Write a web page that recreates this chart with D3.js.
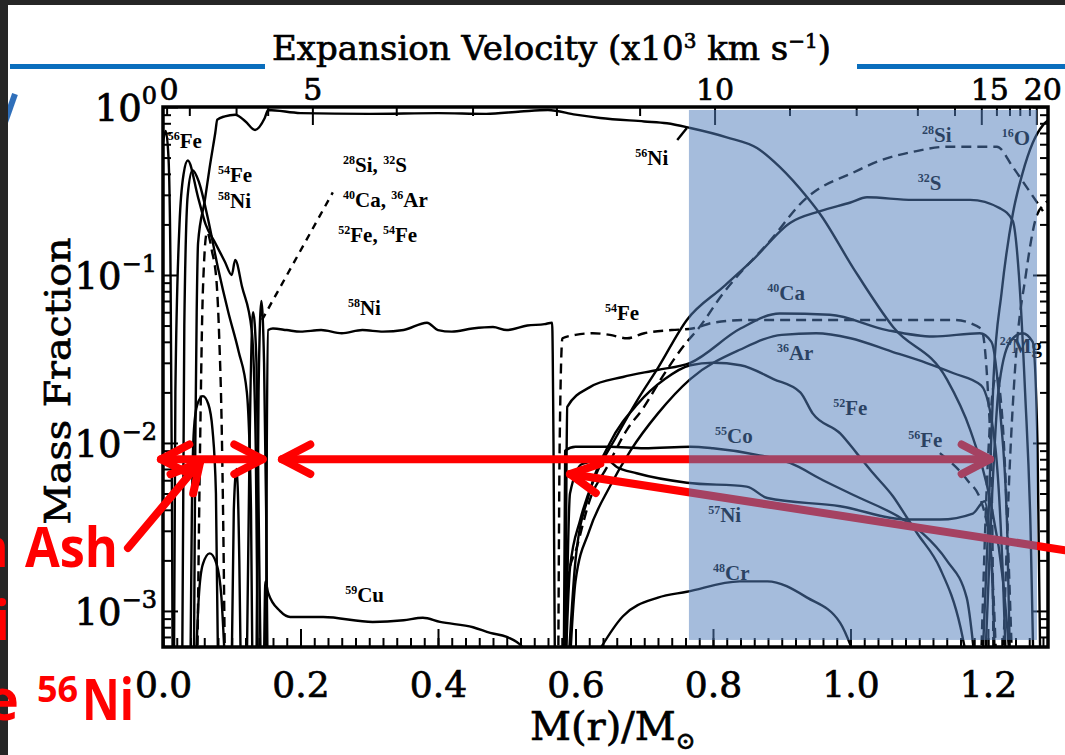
<!DOCTYPE html>
<meta charset="utf-8">
<style>
    body { margin: 0; background: #fff; }
    svg { display: block; }
    .curve { fill: none; stroke: #000; stroke-width: 2.4; stroke-linejoin: round; }
    .dash { stroke-dasharray: 10, 6; }
    .axis line { stroke: #000; stroke-width: 2; }
    .axis path { display: none; }
    .axis text { font-family: "DejaVu Serif", serif; font-size: 36px; fill: #000; stroke: #000; stroke-width: 0.7; }
    .lab { font-family: "Liberation Serif", serif; font-weight: bold; fill: #000; }
    .num { font-family: "DejaVu Serif", serif; fill: #000; stroke: #000; stroke-width: 0.7; }
    .red { font-family: "Open Sans", sans-serif; font-weight: 700; fill: #ff0000; }
    .arrow { fill: none; stroke: #ff0000; stroke-width: 8; stroke-linecap: round; stroke-linejoin: round; }
</style>
<body>
<svg></svg>
<script src="https://d3js.org/d3.v7.min.js"></script>
<script>
    // ---- data: [M(r)/Msun, mass fraction] ----
    var fe56c = [[0.0,0.62],[0.004,0.72],[0.008,0.5],[0.011,0.1],[0.013,0.005],[0.014,0.0005]];
    var fe54c = [[0.016,0.0005],[0.018,0.02],[0.024,0.2],[0.030,0.40],[0.036,0.48],[0.051,0.29],[0.062,0.2],[0.076,0.155],[0.09,0.12],[0.100,0.10],[0.105,0.123],[0.115,0.085],[0.129,0.047],[0.135,0.009],[0.138,0.0005]];
    var ni58c = [[0.028,0.0005],[0.031,0.05],[0.036,0.3],[0.043,0.42],[0.052,0.36],[0.065,0.22],[0.08,0.11],[0.095,0.06],[0.11,0.035],[0.122,0.02],[0.128,0.004],[0.130,0.0005]];
    var co55c = [[0.05,0.0005],[0.054,0.01],[0.058,0.08],[0.064,0.18],[0.071,0.14],[0.078,0.09],[0.082,0.04],[0.085,0.015],[0.087,0.005],[0.09,0.0005]];
    var bell1 = [[0.040,0.0005],[0.042,0.004],[0.045,0.012],[0.050,0.017],[0.058,0.019],[0.066,0.017],[0.072,0.012],[0.077,0.005],[0.080,0.0005]];
    var bell2 = [[0.048,0.0005],[0.052,0.0012],[0.058,0.0019],[0.068,0.0022],[0.078,0.0019],[0.085,0.0012],[0.090,0.0005]];
    var spk1 = [[0.122,0.0005],[0.126,0.01],[0.131,0.06],[0.136,0.03],[0.140,0.002],[0.142,0.0005]];
    var spk2 = [[0.136,0.0005],[0.139,0.02],[0.143,0.07],[0.147,0.03],[0.150,0.004],[0.152,0.0005]];
    var spk3 = [[0.100,0.0005],[0.103,0.004],[0.107,0.007],[0.111,0.002],[0.113,0.0005]];

    var ni56 = [[0.045,0.0005],[0.047,0.01],[0.049,0.06],[0.051,0.155],[0.061,0.28],[0.068,0.44],[0.076,0.70],[0.079,0.84],[0.090,0.88],[0.105,0.90],[0.120,0.82],[0.134,0.73],[0.148,0.86],[0.153,0.96],[0.20,0.92],[0.30,0.91],[0.40,0.92],[0.47,0.91],[0.52,0.94],[0.56,0.96],[0.60,0.90],[0.636,0.86],[0.70,0.82],[0.733,0.80],[0.767,0.75],[0.82,0.66],[0.864,0.57],[0.897,0.44],[0.937,0.29],[0.956,0.23],[1.004,0.11],[1.062,0.049],[1.14,0.024],[1.174,0.012],[1.203,0.0046],[1.222,0.0015],[1.232,0.0005]];
    var ni58 = [[0.150,0.0005],[0.151,0.01],[0.153,0.047],[0.16,0.048],[0.18,0.047],[0.20,0.046],[0.23,0.047],[0.26,0.045],[0.29,0.047],[0.32,0.046],[0.35,0.047],[0.384,0.052],[0.40,0.047],[0.42,0.046],[0.45,0.048],[0.48,0.049],[0.50,0.047],[0.53,0.050],[0.555,0.051],[0.566,0.052],[0.568,0.01],[0.570,0.0005]];
    var cu59 = [[0.147,0.0005],[0.149,0.0015],[0.153,0.00128],[0.17,0.001],[0.185,0.00092],[0.233,0.00092],[0.305,0.00086],[0.35,0.00088],[0.378,0.00091],[0.403,0.00086],[0.451,0.0008],[0.476,0.00074],[0.50,0.0007],[0.524,0.0006],[0.53,0.0005]];
    var fe54 = [[0.575,0.0005],[0.577,0.01],[0.581,0.042],[0.60,0.044],[0.625,0.045],[0.65,0.044],[0.675,0.042],[0.70,0.045],[0.74,0.047],[0.77,0.048],[0.80,0.052],[0.85,0.054],[0.95,0.054],[1.05,0.054],[1.15,0.054],[1.19,0.048],[1.20,0.02],[1.206,0.004],[1.208,0.0005]];
    var si28 = [[0.583,0.0005],[0.588,0.0015],[0.602,0.0024],[0.621,0.0046],[0.646,0.0072],[0.675,0.012],[0.698,0.016],[0.727,0.025],[0.762,0.04],[0.777,0.047],[0.815,0.078],[0.883,0.16],[0.937,0.29],[0.956,0.33],[1.00,0.40],[1.043,0.48],[1.09,0.54],[1.14,0.58],[1.213,0.58],[1.236,0.44],[1.257,0.33],[1.28,0.24]];
    var s32 = [[0.586,0.0005],[0.592,0.0018],[0.607,0.0035],[0.63,0.0065],[0.66,0.011],[0.69,0.018],[0.72,0.028],[0.762,0.054],[0.815,0.085],[0.858,0.123],[0.912,0.204],[0.956,0.24],[1.0,0.27],[1.024,0.29],[1.091,0.28],[1.174,0.28],[1.217,0.25],[1.236,0.21],[1.245,0.1],[1.254,0.02],[1.262,0.003],[1.266,0.0005]];
    var ca40 = [[0.585,0.0005],[0.587,0.008],[0.588,0.0164],[0.621,0.0215],[0.669,0.0247],[0.719,0.0272],[0.767,0.030],[0.84,0.048],[0.897,0.059],[0.97,0.058],[1.053,0.047],[1.12,0.043],[1.188,0.045],[1.205,0.04],[1.218,0.015],[1.228,0.003],[1.232,0.0005]];
    var ar36 = [[0.592,0.0005],[0.60,0.0015],[0.62,0.003],[0.65,0.0055],[0.68,0.009],[0.72,0.015],[0.767,0.024],[0.84,0.036],[0.90,0.044],[0.95,0.045],[1.0,0.042],[1.06,0.035],[1.11,0.03],[1.15,0.026],[1.19,0.022],[1.21,0.01],[1.222,0.0015],[1.226,0.0005]];
    var co55 = [[0.583,0.0005],[0.585,0.009],[0.60,0.0095],[0.65,0.0095],[0.70,0.0093],[0.767,0.0095],[0.80,0.0093],[0.864,0.0085],[0.912,0.0076],[0.96,0.006],[1.009,0.0048],[1.072,0.0036],[1.105,0.0029],[1.14,0.0020],[1.169,0.0012],[1.181,0.0005]];
    var ni57 = [[0.586,0.0005],[0.592,0.005],[0.61,0.0075],[0.646,0.0079],[0.66,0.0072],[0.689,0.0066],[0.762,0.0058],[0.849,0.0055],[0.879,0.0047],[0.985,0.0042],[1.082,0.0035],[1.13,0.0035],[1.178,0.0038],[1.195,0.0045],[1.205,0.002],[1.21,0.0005]];
    var cr48 = [[0.625,0.0005],[0.669,0.00093],[0.72,0.0012],[0.762,0.0013],[0.839,0.0015],[0.879,0.0015],[0.937,0.0012],[0.985,0.00085],[1.009,0.0005]];
    var fe52 = [[0.590,0.0005],[0.60,0.002],[0.62,0.005],[0.65,0.010],[0.69,0.017],[0.73,0.024],[0.767,0.029],[0.80,0.030],[0.84,0.029],[0.888,0.024],[0.927,0.020],[0.945,0.015],[0.985,0.0114],[1.009,0.0087],[1.033,0.0066],[1.062,0.0048],[1.082,0.0036],[1.097,0.0029],[1.13,0.0018],[1.16,0.0008],[1.17,0.0005]];
    var fe56o = [[1.13,0.0087],[1.17,0.006],[1.19,0.0045],[1.205,0.002],[1.212,0.0005]];
    var o16 = [[1.192,0.0005],[1.2,0.003],[1.208,0.024],[1.22,0.08],[1.236,0.23],[1.25,0.4],[1.265,0.61],[1.28,0.78],[1.29,0.85]];
    var mg24 = [[1.196,0.0005],[1.205,0.004],[1.215,0.02],[1.232,0.04],[1.25,0.045],[1.265,0.04],[1.272,0.01],[1.276,0.0005]];
    var ne20 = [[1.222,0.0005],[1.23,0.005],[1.24,0.03],[1.255,0.1],[1.27,0.22],[1.28,0.26],[1.29,0.28]];
    var dsp1 = [[1.19,0.0005],[1.2,0.008],[1.212,0.025],[1.222,0.012],[1.23,0.002],[1.235,0.0005]];

    var solidCurves = [fe56c, fe54c, ni58c, bell1, bell2, spk1, spk2, spk3, ni56, ni58, cu59, s32, ca40, ar36, co55, ni57, cr48, fe52, o16, mg24];
    var dashedCurves = [co55c, fe54, si28, fe56o, ne20, dsp1];

    // axes
    var massTicks = [0.0, 0.2, 0.4, 0.6, 0.8, 1.0, 1.2];
    var yMajor = [1, 0.1, 0.01, 0.001];
    var yExp = ["0", "\u22121", "\u22122", "\u22123"];
    var velTicks = [0, 1, 2, 3, 4, 5, 6, 7, 8, 9, 10, 11, 12, 13, 14, 15, 16, 17, 18, 19, 20];
    var velMass = [0, 0.006, 0.039, 0.107, 0.153, 0.218, 0.340, 0.451, 0.573, 0.694, 0.803, 0.912, 1.009, 1.098, 1.152, 1.191, 1.213, 1.232, 1.247, 1.261, 1.271];
    var velLabels = [0, 5, 10, 15, 20];

    // isotope labels ("^" marks the mass number)
    var labelText = ["^56Fe", "^54Fe", "^58Ni", "^28Si, ^32S", "^40Ca, ^36Ar", "^52Fe, ^54Fe", "^58Ni", "^56Ni", "^54Fe",
        "^28Si", "^16O", "^32S", "^40Ca", "^36Ar", "^24Mg", "^52Fe", "^55Co", "^56Fe", "^57Ni", "^48Cr", "^59Cu"];
    var labelM = [0.007, 0.080, 0.080, 0.262, 0.262, 0.255, 0.269, 0.687, 0.643,
        1.104, 1.220, 1.098, 0.879, 0.893, 1.217, 0.975, 0.803, 1.084, 0.793, 0.800, 0.265];
    var labelX = [0.57, 0.36, 0.25, 0.41, 0.254, 0.157, 0.0578, 0.452, 0.054,
        0.62, 0.594, 0.32, 0.071, 0.031, 0.0343, 0.0147, 0.01, 0.00946, 0.00339, 0.00153, 0.00113];

    // overlays on the slide
    var shadeM = [0.765, 1.2713], shadeX = [6.72e-4, 0.96];
    var arrowLevel = 0.0080;

    var width = 1065, height = 755;
    var svg = d3.select("svg").attr("width", width).attr("height", height);
    svg.append("rect").attr("width", width).attr("height", height).attr("fill", "#fff");

    var x = d3.scaleLinear().domain([0, 1.2873]).range([163, 1048]);
    var y = d3.scaleLog().domain([6.1e-4, 1]).range([647, 107]);
    var x0 = x.range()[0], x1 = x.range()[1], yTop = y.range()[1], yBot = y.range()[0];

    svg.append("defs").append("clipPath").attr("id", "plotClip").append("rect")
        .attr("x", x0).attr("y", yTop).attr("width", x1 - x0).attr("height", yBot - yTop);

    // --- titles ---
    var title = svg.append("text").attr("class", "num").attr("x", 272).attr("y", 60).style("font-size", "34px");
    title.append("tspan").text("Expansion Velocity (x10");
    title.append("tspan").attr("dy", -12).style("font-size", "20px").text("3");
    title.append("tspan").attr("dy", 12).text(" km s");
    title.append("tspan").attr("dy", -12).style("font-size", "20px").text("\u22121");
    title.append("tspan").attr("dy", 12).text(")");

    svg.append("text").attr("class", "num")
        .attr("transform", "translate(70,381) rotate(-90)")
        .attr("text-anchor", "middle").style("font-size", "36px")
        .attr("textLength", 287).attr("lengthAdjust", "spacingAndGlyphs")
        .text("Mass Fraction");

    var xt = svg.append("text").attr("class", "num").attr("x", 530).attr("y", 740).style("font-size", "40px");
    xt.append("tspan").text("M(r)/M");
    xt.append("tspan").attr("dy", 9).style("font-size", "24px").text("\u2299");

    // --- axes ---
    var minorMass = d3.range(0, 1.285, 0.02);
    svg.append("g").attr("class", "axis").attr("transform", "translate(0," + yBot + ")")
        .call(d3.axisBottom(x).tickValues(minorMass).tickSizeInner(-9).tickSizeOuter(0).tickFormat(""));
    svg.append("g").attr("class", "axis").attr("transform", "translate(0," + yBot + ")")
        .call(d3.axisBottom(x).tickValues(massTicks).tickSizeInner(-18).tickSizeOuter(0).tickPadding(24).tickFormat(d3.format(".1f")));

    var yMinor = [];
    [1e-4, 1e-3, 1e-2, 0.1].forEach(function (d) {
        d3.range(2, 10).forEach(function (k) { var v = d * k; if (v >= 6.1e-4 && v < 1) yMinor.push(v); });
    });
    [[d3.axisLeft, x0], [d3.axisRight, x1]].forEach(function (a) {
        svg.append("g").attr("class", "axis").attr("transform", "translate(" + a[1] + ",0)")
            .call(a[0](y).tickValues(yMinor).tickSizeInner(-8).tickSizeOuter(0).tickFormat(""));
        svg.append("g").attr("class", "axis").attr("transform", "translate(" + a[1] + ",0)")
            .call(a[0](y).tickValues(yMajor).tickSizeInner(-15).tickSizeOuter(0).tickFormat(""));
    });

    yMajor.forEach(function (v, i) {
        var t = svg.append("text").attr("class", "num").attr("text-anchor", "end")
            .attr("x", 157).attr("y", y(v) + 14).style("font-size", "37px");
        t.append("tspan").text("10");
        t.append("tspan").attr("dy", -17).style("font-size", "24px").text(yExp[i]);
    });

    // velocity axis on top
    var gv = svg.append("g");
    velTicks.forEach(function (v, i) {
        var big = velLabels.indexOf(v) >= 0;
        gv.append("line")
            .attr("x1", x(velMass[i])).attr("x2", x(velMass[i]))
            .attr("y1", yTop).attr("y2", yTop + (big ? 18 : 9))
            .attr("stroke", "#000").attr("stroke-width", 2);
        if (big) {
            gv.append("text").attr("class", "num").attr("text-anchor", "middle")
                .attr("x", x(velMass[i]) + (v === 15 ? 8 : v === 20 ? 6 : v === 0 ? 6 : 0)).attr("y", 100)
                .style("font-size", "30px").text(v);
        }
    });

    // --- curves ---
    var line = d3.line().x(function (d) { return x(d[0]); }).y(function (d) { return y(d[1]); })
        .curve(d3.curveMonotoneX);
    var straight = d3.line().x(function (d) { return x(d[0]); }).y(function (d) { return y(d[1]); });
    var gc = svg.append("g").attr("clip-path", "url(#plotClip)");
    solidCurves.forEach(function (c) { gc.append("path").datum(c).attr("class", "curve").attr("d", line); });
    dashedCurves.forEach(function (c) { gc.append("path").datum(c).attr("class", "curve dash").attr("d", line); });

    // leader lines
    gc.append("path").datum([[0.144, 0.054], [0.247, 0.31]]).attr("class", "curve").attr("stroke-dasharray", "7,6").attr("d", straight);
    gc.append("path").datum([[0.748, 0.636], [0.762, 0.75]]).attr("class", "curve").attr("d", straight);

    // frame
    svg.append("rect").attr("x", x0).attr("y", yTop).attr("width", x1 - x0).attr("height", yBot - yTop)
        .attr("fill", "none").attr("stroke", "#000").attr("stroke-width", 3.5);

    // isotope labels
    labelText.forEach(function (s, i) {
        var size = 21;
        var t = svg.append("text").attr("class", "lab").attr("x", x(labelM[i])).attr("y", y(labelX[i])).style("font-size", size + "px");
        s.split("^").forEach(function (piece, k) {
            if (k === 0) { if (piece) t.append("tspan").text(piece); return; }
            var mt = piece.match(/^(\d+)(.*)$/);
            t.append("tspan").attr("dy", -8).style("font-size", "12px").text(mt[1]);
            t.append("tspan").attr("dy", 8).text(mt[2]);
        });
    });

    // --- red arrows ---
    var ga = svg.append("g");
    function head(tip, from) {
        var ang = Math.atan2(from[1] - tip[1], from[0] - tip[0]), L = 32, s = 0.48;
        ga.append("path").attr("class", "arrow").attr("d",
            "M" + (tip[0] + L * Math.cos(ang + s)) + "," + (tip[1] + L * Math.sin(ang + s)) +
            "L" + tip[0] + "," + tip[1] +
            "L" + (tip[0] + L * Math.cos(ang - s)) + "," + (tip[1] + L * Math.sin(ang - s)));
    }
    function arrow(p0, p1, both) {
        var a = [x(p0[0]), y(p0[1])], b = [x(p1[0]), y(p1[1])];
        ga.append("line").attr("class", "arrow").attr("x1", a[0]).attr("y1", a[1]).attr("x2", b[0]).attr("y2", b[1]);
        head(b, a);
        if (both) head(a, b);
    }
    arrow([-0.003, arrowLevel], [0.145, arrowLevel], true);
    arrow([0.173, arrowLevel], [1.203, arrowLevel], true);
    arrow([-0.051, 0.00237], [0.054, 0.0077], false);
    arrow([1.312, 0.0023], [0.592, 0.00653], false);

    // --- blue shaded band ---
    svg.append("rect")
        .attr("x", x(shadeM[0])).attr("y", y(shadeX[1]))
        .attr("width", x(shadeM[1]) - x(shadeM[0])).attr("height", y(shadeX[0]) - y(shadeX[1]))
        .attr("fill", "rgb(82,127,188)").attr("opacity", 0.52);

    // --- slide decorations ---
    svg.append("rect").attr("x", 10).attr("y", 64).attr("width", 255).attr("height", 5).attr("fill", "#0a6ebd");
    svg.append("rect").attr("x", 857).attr("y", 64).attr("width", 208).attr("height", 5).attr("fill", "#0a6ebd");
    svg.append("line").attr("x1", 15).attr("y1", 94).attr("x2", 3).attr("y2", 128)
        .attr("stroke", "#2f6fba").attr("stroke-width", 6);
    svg.append("rect").attr("x", 0).attr("y", 0).attr("width", 8).attr("height", height).attr("fill", "#262626");
    svg.append("rect").attr("x", 0).attr("y", 0).attr("width", width).attr("height", 5).attr("fill", "#262626");

    svg.append("text").attr("class", "red").attr("text-anchor", "end").attr("x", 9).attr("y", 567).style("font-size", "55px").text("n");
    svg.append("text").attr("class", "red").attr("x", 25).attr("y", 567).style("font-size", "55px")
        .attr("textLength", 93).attr("lengthAdjust", "spacingAndGlyphs").text("Ash");
    svg.append("text").attr("class", "red").attr("text-anchor", "end").attr("x", 10).attr("y", 640).style("font-size", "55px").text("i");
    svg.append("text").attr("class", "red").attr("text-anchor", "end").attr("x", 19).attr("y", 720).style("font-size", "58px").text("e");
    svg.append("text").attr("class", "red").attr("x", 37).attr("y", 702).style("font-size", "36px").text("56");
    svg.append("text").attr("class", "red").attr("x", 82).attr("y", 720).style("font-size", "58px")
        .attr("textLength", 52).attr("lengthAdjust", "spacingAndGlyphs").text("Ni");
</script>
</body>
</html>
